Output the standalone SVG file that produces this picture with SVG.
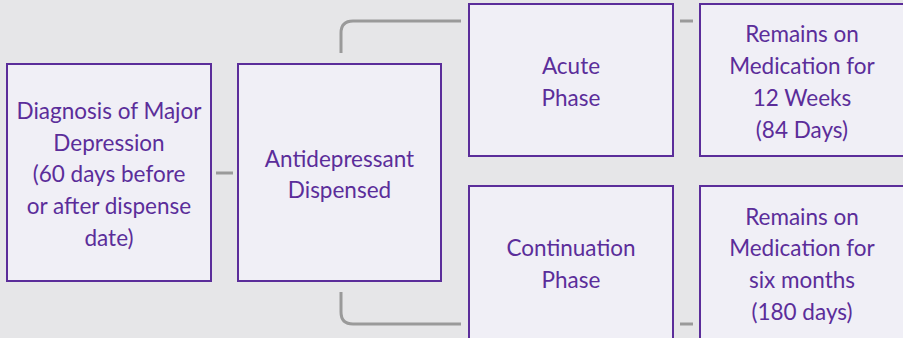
<svg xmlns="http://www.w3.org/2000/svg" width="903" height="338" viewBox="0 0 903 338">
<style>
.box{fill:#f0eff6;stroke:#5b2d9a;stroke-width:2}
.t{font-family:Lato,"Liberation Sans",sans-serif;font-size:22.5px;fill:#5b2d9a;text-anchor:middle}
.c{fill:none;stroke:#9a9a9a;stroke-width:3}
</style>
<rect width="903" height="338" fill="#e6e6e8"/>
<g id="connectors">
<path class="c" d="M216 173H233"/>
<path class="c" d="M341 53V33Q341 21 353 21H461"/>
<path class="c" d="M341 292V312Q341 324 353 324H461"/>
<path class="c" d="M680 21H693"/>
<path class="c" d="M680 324H693"/>
</g>
<g id="diagnosis">
<rect class="box" x="7" y="64" width="204" height="217"/>
<text class="t" x="109" y="119">Diagnosis of Major</text>
<text class="t" x="109" y="151">Depression</text>
<text class="t" x="109" y="182">(60 days before</text>
<text class="t" x="109" y="214">or after dispense</text>
<text class="t" x="109" y="246">date)</text>
</g>
<g id="dispensed">
<rect class="box" x="238" y="64" width="203" height="217"/>
<text class="t" x="339.5" y="167">Antidepressant</text>
<text class="t" x="339.5" y="198">Dispensed</text>
</g>
<g id="acute">
<rect class="box" x="469" y="4" width="204" height="152"/>
<text class="t" x="571" y="74">Acute</text>
<text class="t" x="571" y="106">Phase</text>
</g>
<g id="remains12">
<rect class="box" x="700" y="4" width="206" height="152"/>
<text class="t" x="802" y="42">Remains on</text>
<text class="t" x="802" y="74">Medication for</text>
<text class="t" x="802" y="106">12 Weeks</text>
<text class="t" x="802" y="138">(84 Days)</text>
</g>
<g id="continuation">
<rect class="box" x="469" y="186" width="204" height="160"/>
<text class="t" x="571" y="256">Continuation</text>
<text class="t" x="571" y="288">Phase</text>
</g>
<g id="remains6">
<rect class="box" x="700" y="186" width="206" height="160"/>
<text class="t" x="802" y="225">Remains on</text>
<text class="t" x="802" y="256">Medication for</text>
<text class="t" x="802" y="288">six months</text>
<text class="t" x="802" y="320">(180 days)</text>
</g>
</svg>
